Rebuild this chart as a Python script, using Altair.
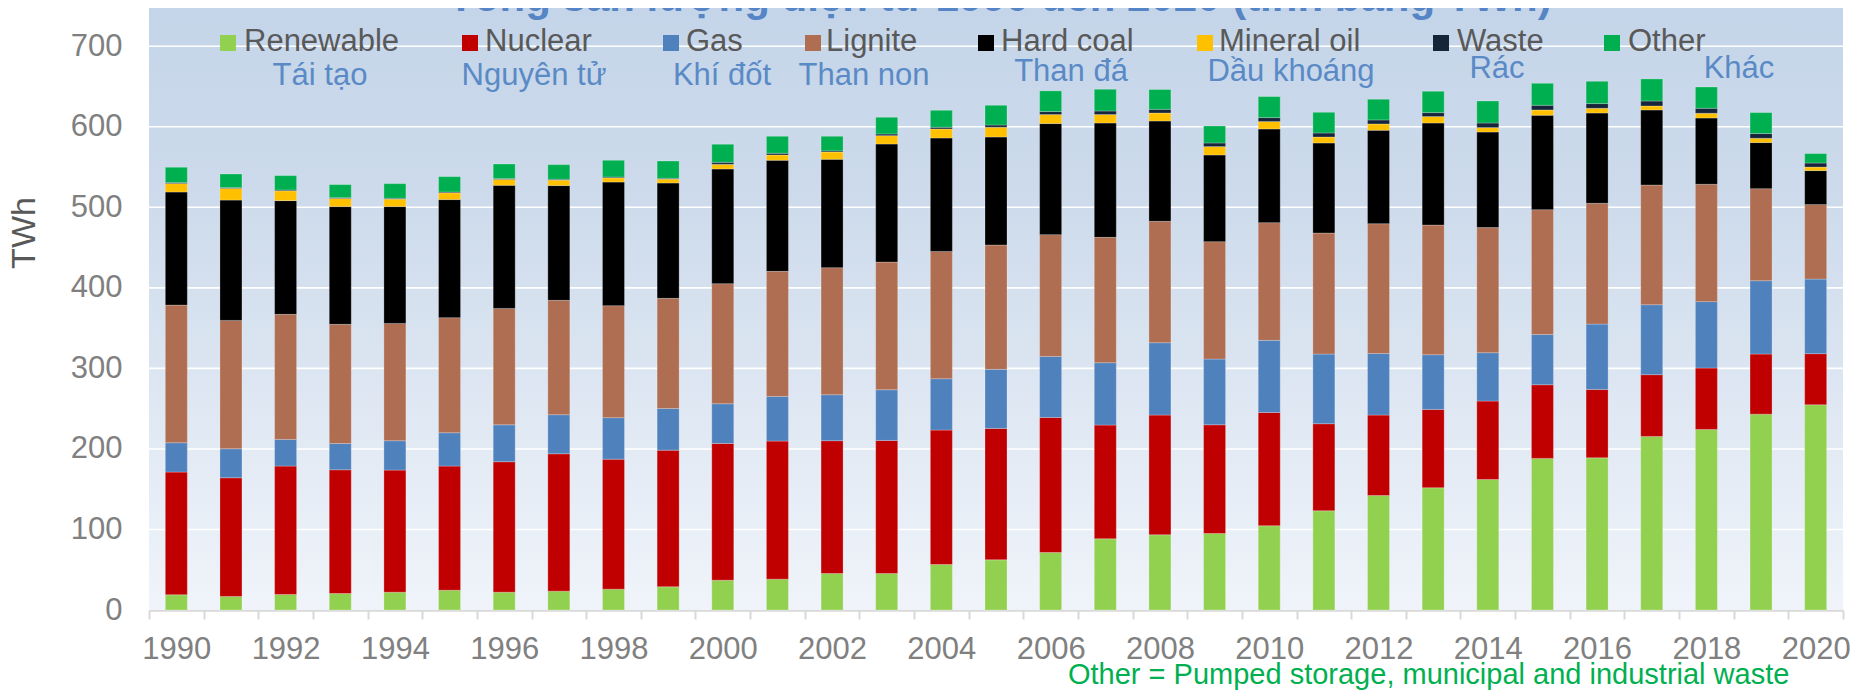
import altair as alt
import pandas as pd

# ---------------- data (TWh) ----------------
years = list(range(1990, 2021))
series = ["Renewable", "Nuclear", "Gas", "Lignite", "Hard coal", "Mineral oil", "Waste", "Other"]
series_vi = ["Tái tạo", "Nguyên tử", "Khí đốt", "Than non", "Than đá", "Dầu khoáng", "Rác", "Khác"]
colors = ["#92D050", "#C00000", "#4F81BD", "#AF6D51", "#000000", "#FFC000", "#17253A", "#00B050"]

renewable = [18.9, 16.8, 19.3, 20.5, 22.1, 24.6, 22.1, 23.4, 25.9, 28.8,
             37.0, 38.3, 45.3, 45.3, 56.5, 62.3, 71.4, 88.4, 93.4, 95.0,
             104.6, 123.2, 142.2, 151.8, 162.1, 188.2, 189.0, 215.5, 224.2, 243.2, 254.9]
nuclear = [152.3, 147.4, 159.4, 153.6, 151.6, 154.1, 162.0, 170.6, 161.4, 169.7,
           169.8, 171.4, 164.9, 165.3, 166.9, 163.2, 167.7, 141.2, 148.6, 135.0,
           140.7, 108.1, 99.8, 97.3, 97.3, 91.5, 84.9, 76.7, 76.2, 74.6, 63.4]
gas = [36.5, 36.0, 33.1, 32.7, 36.5, 41.4, 45.9, 48.5, 51.5, 51.8,
       49.3, 55.5, 57.1, 62.9, 63.8, 73.3, 75.8, 77.5, 89.9, 81.6,
       89.5, 86.5, 76.6, 67.9, 60.1, 62.5, 81.1, 86.9, 82.5, 91.1, 92.6]
lignite = [170.9, 159.4, 155.3, 147.9, 145.7, 142.9, 144.5, 142.0, 139.1, 136.7,
           149.1, 155.3, 157.8, 158.5, 158.1, 154.4, 151.2, 155.6, 150.7, 145.8,
           146.2, 150.3, 161.1, 161.0, 155.3, 154.9, 150.0, 148.6, 145.7, 114.3, 92.5]
hard_coal = [140.4, 149.4, 141.2, 146.2, 145.0, 146.6, 152.8, 142.5, 153.5, 143.2,
             142.4, 137.9, 134.5, 146.6, 140.8, 134.1, 137.9, 142.0, 124.6, 107.6,
             116.3, 111.8, 116.0, 126.7, 118.7, 117.2, 112.1, 93.2, 82.3, 57.2, 42.2]
mineral_oil = [10.7, 14.5, 12.2, 10.1, 9.3, 8.4, 7.4, 6.8, 5.2, 4.8,
               5.8, 6.6, 9.1, 10.4, 11.2, 12.1, 11.2, 10.5, 9.9, 10.4,
               9.2, 7.4, 7.8, 8.0, 5.5, 6.6, 5.9, 4.9, 5.9, 5.3, 4.4]
waste = [1.0, 1.0, 1.0, 1.0, 1.0, 1.0, 1.0, 1.0, 1.0, 1.0,
         2.5, 2.1, 1.3, 2.1, 2.1, 2.8, 3.7, 4.4, 4.6, 4.5,
         4.9, 5.0, 5.0, 4.9, 5.7, 5.8, 5.8, 6.2, 6.2, 5.9, 5.0]
other = [19.0, 16.9, 17.9, 16.2, 18.2, 19.1, 18.1, 18.2, 20.8, 21.5,
         22.4, 21.1, 18.2, 20.7, 21.1, 24.5, 25.7, 27.0, 24.6, 21.1,
         26.1, 25.7, 25.7, 26.5, 27.3, 27.3, 27.7, 27.4, 26.4, 26.0, 11.7]

y_ticks = [0, 100, 200, 300, 400, 500, 600, 700]
title_text = "Tổng sản lượng điện từ 1990 đến 2020 (tính bằng TWh)"
y_title = "TWh"
footnote = "Other = Pumped storage, municipal and industrial waste"

# legend layout (pixels inside the plot area)
leg_square_x = [71, 313, 514, 656, 829, 1048, 1284, 1455]
leg_text_x = [95, 336, 537, 677, 852, 1070, 1308, 1479]
leg_vi_x = [171, 385, 573, 715, 922, 1142, 1348, 1590]
leg_vi_y = [77, 77, 77, 77, 73, 73, 70, 70]

# ---------------- build tables ----------------
values_by_series = [renewable, nuclear, gas, lignite, hard_coal, mineral_oil, waste, other]
rows = []
for si, (name, vals) in enumerate(zip(series, values_by_series)):
    for yr, v in zip(years, vals):
        rows.append({"year": yr, "source": name, "value": v, "idx": si})
df = pd.DataFrame(rows)

leg = pd.DataFrame({
    "source": series, "vi": series_vi,
    "sx0": leg_square_x, "sx1": [v + 16 for v in leg_square_x],
    "sy0": [27] * 8, "sy1": [43] * 8,
    "tx": leg_text_x, "ty": [43] * 8,
    "vx": leg_vi_x, "vy": leg_vi_y,
})

W, H = 1694, 602
YMAX = 747.5
FONT = "Liberation Sans"

yscale = alt.Scale(domain=[0, YMAX], nice=False, zero=True)
one = pd.DataFrame({"a": [0]})

bg = alt.Chart(one).mark_rect(
    color=alt.LinearGradient(
        gradient="linear",
        stops=[alt.GradientStop(color="#C5D5E9", offset=0),
               alt.GradientStop(color="#CCDAEB", offset=0.3),
               alt.GradientStop(color="#F0F4FA", offset=1)],
        x1=0, x2=0, y1=0, y2=1)
).encode(x=alt.value(0), x2=alt.value(W), y=alt.value(0), y2=alt.value(H))

grid = alt.Chart(pd.DataFrame({"t": y_ticks[1:]})).mark_rule(
    color="white", strokeWidth=1.6
).encode(
    y=alt.Y("t:Q", scale=yscale, axis=None),
    x=alt.value(0), x2=alt.value(W),
)

bars = alt.Chart(df).mark_bar(
    size=22, stroke="white", strokeWidth=0.8, strokeOpacity=0.3
).encode(
    x=alt.X("year:O", scale=alt.Scale(paddingInner=0, paddingOuter=0),
            axis=alt.Axis(title=None, labelAngle=0, labelOverlap=False,
                          labelExpr="datum.value % 2 == 0 ? datum.label : ''",
                          tickBand="extent", tickSize=9, tickColor="#D9D9D9", tickWidth=2,
                          domainColor="#D9D9D9", domainWidth=2.5,
                          labelFontSize=31, labelColor="#808080", labelFont=FONT,
                          labelPadding=15, grid=False)),
    y=alt.Y("value:Q", stack="zero", scale=yscale,
            axis=alt.Axis(values=y_ticks, title=None, grid=False, domain=False, ticks=False,
                          labelFontSize=31, labelColor="#808080", labelFont=FONT,
                          labelPadding=27)),
    color=alt.Color("source:N", scale=alt.Scale(domain=series, range=colors), legend=None),
    order=alt.Order("idx:Q", sort="ascending"),
)

leg_sq = alt.Chart(leg).mark_rect().encode(
    x=alt.X("sx0:Q", scale=None, axis=None), x2="sx1:Q",
    y=alt.Y("sy0:Q", scale=None, axis=None), y2="sy1:Q",
    color=alt.Color("source:N", scale=alt.Scale(domain=series, range=colors), legend=None),
)
leg_en = alt.Chart(leg).mark_text(
    align="left", baseline="alphabetic", fontSize=31, font=FONT, color="#595959"
).encode(
    x=alt.X("tx:Q", scale=None, axis=None), y=alt.Y("ty:Q", scale=None, axis=None),
    text="source:N",
)
leg_vi = alt.Chart(leg).mark_text(
    align="center", baseline="alphabetic", fontSize=31, font=FONT, color="#5A8AC6"
).encode(
    x=alt.X("vx:Q", scale=None, axis=None), y=alt.Y("vy:Q", scale=None, axis=None),
    text="vi:N",
)

title = alt.Chart(one).mark_text(
    text=title_text, align="center", baseline="alphabetic", fontSize=42,
    fontWeight="bold", font=FONT, color="#5585C5"
).encode(x=alt.value(851), y=alt.value(2.5))

ytitle = alt.Chart(one).mark_text(
    text=y_title, align="center", baseline="middle", angle=270, fontSize=34,
    font=FONT, color="#595959"
).encode(x=alt.value(-124), y=alt.value(225))

foot = alt.Chart(one).mark_text(
    text=footnote, align="left", baseline="alphabetic", fontSize=29,
    font=FONT, color="#00B050"
).encode(x=alt.value(919), y=alt.value(676))

chart = alt.layer(
    bg, grid, bars, leg_sq, leg_en, leg_vi, title, ytitle, foot
).resolve_scale(
    x="independent", y="independent", color="shared"
).properties(
    width=W, height=H, autosize="none",
    padding={"left": 141, "top": 0, "right": 10, "bottom": 80},
    background="white",
).configure_view(stroke=None)

chart.save("out.html", embed_options={"renderer": "svg", "actions": False})
